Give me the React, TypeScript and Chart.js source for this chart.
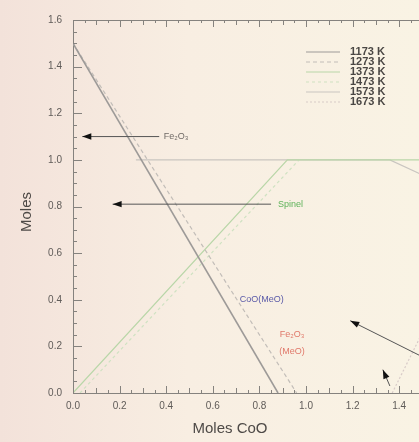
import React, { useEffect, useRef } from "react";
import { Chart, registerables } from "chart.js";

Chart.register(...registerables);

// ---- data ----
const xTicks = [0, 0.2, 0.4, 0.6, 0.8, 1.0, 1.2, 1.4];
const yTicks = [0, 0.2, 0.4, 0.6, 0.8, 1.0, 1.2, 1.4, 1.6];
const temps = ["1173 K", "1273 K", "1373 K", "1473 K", "1573 K", "1673 K"];

const fe2o3A = [{ x: 0, y: 1.5 }, { x: 0.88, y: 0 }];
const fe2o3B = [{ x: 0, y: 1.5 }, { x: 0.96, y: 0 }];
const spinelA = [{ x: 0, y: 0 }, { x: 0.92, y: 1.0 }, { x: 1.49, y: 1.0 }];
const spinelB = [{ x: 0.03, y: 0 }, { x: 0.97, y: 1.0 }];
const plateau = [{ x: 0.27, y: 1.0 }, { x: 1.36, y: 1.0 }, { x: 1.49, y: 0.94 }];
const rightRise = [{ x: 1.37, y: 0 }, { x: 1.49, y: 0.24 }];

const seriesColors = ["#9d9a98", "#c2bdb8", "#b9d6a8", "#cfe2c2", "#c9c5c0", "#d8cbc8"];
const seriesDash = [[], [4, 3], [], [3, 3], [], [2, 2]];
const seriesData = [fe2o3A, fe2o3B, spinelA, spinelB, plateau, rightRise];

// annotations: [fromX, fromY, toX, toY]
const arrowFe2o3 = [0.37, 1.1, 0.04, 1.1];
const arrowSpinel = [0.85, 0.81, 0.17, 0.81];
const arrowCoO = [1.49, 0.16, 1.19, 0.31];
const arrowSmall = [1.36, 0.03, 1.33, 0.1];

const labels = [
  { text: "Fe\u2082O\u2083", x: 0.39, y: 1.1, color: "#6f6a66", align: "left" },
  { text: "Spinel", x: 0.88, y: 0.81, color: "#5fb35a", align: "left" },
  { text: "CoO(MeO)", x: 0.81, y: 0.4, color: "#5a5aa8", align: "center" },
  { text: "Fe\u2082O\u2083", x: 0.94, y: 0.25, color: "#e0786a", align: "center" },
  { text: "(MeO)", x: 0.94, y: 0.18, color: "#e0786a", align: "center" },
];

const X_MAX = 1.485;
const Y_MAX = 1.6;

function drawArrow(ctx: CanvasRenderingContext2D, xs: any, ys: any, a: number[]) {
  const x1 = xs.getPixelForValue(a[0]);
  const y1 = ys.getPixelForValue(a[1]);
  const x2 = xs.getPixelForValue(a[2]);
  const y2 = ys.getPixelForValue(a[3]);
  ctx.save();
  ctx.strokeStyle = "#555";
  ctx.lineWidth = 1;
  ctx.beginPath();
  ctx.moveTo(x1, y1);
  ctx.lineTo(x2, y2);
  ctx.stroke();
  const ang = Math.atan2(y2 - y1, x2 - x1);
  const L = 9;
  const W = 3.2;
  ctx.fillStyle = "#111";
  ctx.beginPath();
  ctx.moveTo(x2, y2);
  ctx.lineTo(x2 - L * Math.cos(ang) + W * Math.sin(ang), y2 - L * Math.sin(ang) - W * Math.cos(ang));
  ctx.lineTo(x2 - L * Math.cos(ang) - W * Math.sin(ang), y2 - L * Math.sin(ang) + W * Math.cos(ang));
  ctx.closePath();
  ctx.fill();
  ctx.restore();
}

const bgPlugin = {
  id: "bg",
  beforeDraw(chart: any) {
    const { ctx, width, height } = chart;
    const g = ctx.createLinearGradient(0, 0, width, 0);
    g.addColorStop(0, "#f3e2da");
    g.addColorStop(0.45, "#f8eee2");
    g.addColorStop(1, "#f9f3e4");
    ctx.save();
    ctx.fillStyle = g;
    ctx.fillRect(0, 0, width, height);
    ctx.restore();
  },
};

const decoPlugin = {
  id: "deco",
  afterDraw(chart: any) {
    const { ctx, chartArea } = chart;
    const xs = chart.scales.x;
    const ys = chart.scales.y;
    const { left, right, top, bottom } = chartArea;
    ctx.save();
    ctx.strokeStyle = "#85827e";
    ctx.lineWidth = 1;
    // top border
    ctx.beginPath();
    ctx.moveTo(left, top + 0.5);
    ctx.lineTo(right, top + 0.5);
    ctx.stroke();
    // x ticks bottom & top
    for (let i = 0; i <= 30; i++) {
      const v = i * 0.05;
      if (v > X_MAX) break;
      const px = Math.round(xs.getPixelForValue(v)) + 0.5;
      const major = i % 4 === 0;
      const len = major ? 7 : i % 2 === 0 ? 5 : 3;
      ctx.beginPath();
      ctx.moveTo(px, bottom);
      ctx.lineTo(px, bottom - len);
      ctx.moveTo(px, top);
      ctx.lineTo(px, top + len);
      ctx.stroke();
    }
    // y ticks left
    for (let i = 0; i <= 32; i++) {
      const v = i * 0.05;
      const py = Math.round(ys.getPixelForValue(v)) + 0.5;
      const major = i % 4 === 0;
      const len = major ? 9 : 4;
      ctx.beginPath();
      ctx.moveTo(left, py);
      ctx.lineTo(left + len, py);
      ctx.stroke();
    }
    ctx.restore();

    // arrows
    [arrowFe2o3, arrowSpinel, arrowCoO, arrowSmall].forEach((a) => drawArrow(ctx, xs, ys, a));

    // labels
    ctx.save();
    ctx.font = "9px 'Liberation Sans', Arial, sans-serif";
    ctx.textBaseline = "middle";
    labels.forEach((l) => {
      ctx.fillStyle = l.color;
      ctx.textAlign = l.align as CanvasTextAlign;
      ctx.fillText(l.text, xs.getPixelForValue(l.x), ys.getPixelForValue(l.y));
    });
    ctx.restore();

    // legend
    ctx.save();
    ctx.font = "bold 11px 'Liberation Sans', Arial, sans-serif";
    ctx.textBaseline = "middle";
    ctx.textAlign = "left";
    temps.forEach((t, i) => {
      const y = 52 + i * 10;
      ctx.strokeStyle = seriesColors[i];
      ctx.setLineDash(seriesDash[i]);
      ctx.lineWidth = 1;
      ctx.beginPath();
      ctx.moveTo(306, y);
      ctx.lineTo(340, y);
      ctx.stroke();
      ctx.setLineDash([]);
      ctx.fillStyle = "#4a4744";
      ctx.fillText(t, 350, y);
    });
    ctx.restore();

    // axis titles
    ctx.save();
    ctx.fillStyle = "#4e4a47";
    ctx.font = "15px 'Liberation Sans', Arial, sans-serif";
    ctx.textAlign = "center";
    ctx.textBaseline = "middle";
    ctx.fillText("Moles CoO", 230, 429);
    ctx.translate(27, 212);
    ctx.rotate(-Math.PI / 2);
    ctx.fillText("Moles", 0, 0);
    ctx.restore();
  },
};

export default function App() {
  const ref = useRef<HTMLCanvasElement | null>(null);
  useEffect(() => {
    if (!ref.current) return;
    const chart = new Chart(ref.current, {
      type: "line",
      data: {
        datasets: seriesData.map((d, i) => ({
          label: temps[i],
          data: d,
          borderColor: seriesColors[i],
          borderDash: seriesDash[i],
          borderWidth: i === 0 ? 1.6 : 1.2,
          pointRadius: 0,
          fill: false,
          tension: 0,
        })),
      },
      options: {
        responsive: false,
        animation: false,
        layout: { padding: { top: 20, left: 0, right: 0, bottom: 0 } },
        plugins: { legend: { display: false }, tooltip: { enabled: false } },
        scales: {
          x: {
            type: "linear",
            min: 0,
            max: X_MAX,
            grid: { display: false, drawTicks: false },
            border: { display: true, color: "#85827e" },
            afterBuildTicks: (s: any) => {
              s.ticks = xTicks.map((v) => ({ value: v }));
            },
            afterFit: (s: any) => {
              s.height = 49;
            },
            ticks: {
              padding: 7,
              color: "#5f5b58",
              font: { size: 10, family: "'Liberation Sans', Arial, sans-serif" },
              maxRotation: 0,
              autoSkip: false,
              callback: (v: any) => Number(v).toFixed(1),
            },
          },
          y: {
            type: "linear",
            min: 0,
            max: Y_MAX,
            grid: { display: false, drawTicks: false },
            border: { display: true, color: "#85827e" },
            afterBuildTicks: (s: any) => {
              s.ticks = yTicks.map((v) => ({ value: v }));
            },
            afterFit: (s: any) => {
              s.width = 73;
            },
            ticks: {
              padding: 11,
              color: "#5f5b58",
              font: { size: 10, family: "'Liberation Sans', Arial, sans-serif" },
              autoSkip: false,
              callback: (v: any) => Number(v).toFixed(1),
            },
          },
        },
      },
      plugins: [bgPlugin, decoPlugin],
    });
    return () => chart.destroy();
  }, []);
  return (
    <div style={{ position: "fixed", left: 0, top: 0, width: 419, height: 442 }}>
      <canvas ref={ref} width={419} height={442} style={{ display: "block" }} />
    </div>
  );
}
